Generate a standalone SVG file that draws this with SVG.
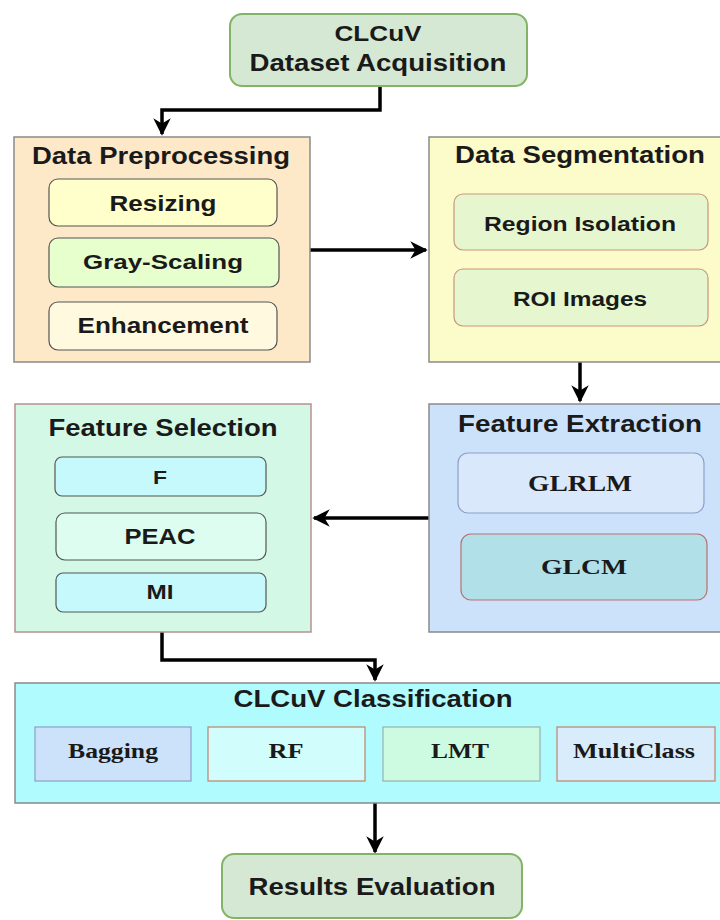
<svg xmlns="http://www.w3.org/2000/svg" width="720" height="920" viewBox="0 0 720 920">
<defs>
<marker id="ah" viewBox="0 0 10 10" refX="9" refY="5" markerWidth="5" markerHeight="5" orient="auto" markerUnits="strokeWidth">
<path d="M0,0 L10,5 L0,10 L3,5 Z" fill="#000"/>
</marker>
</defs>
<style>
.t{font-family:"Liberation Sans",Arial,sans-serif;font-weight:bold;fill:#1a1a1a;text-anchor:middle}
.s{font-family:"Liberation Serif","Times New Roman",serif;font-weight:bold;fill:#1a1a1a;text-anchor:middle}
.grp{stroke:#8a8a8a;stroke-width:1.5}
.c{fill:none;stroke:#000;stroke-width:3.5;marker-end:url(#ah)}
</style>
<rect width="720" height="920" fill="#fff"/>
<g id="connectors">
<path class="c" d="M380,86 V110 H162 V134"/>
<path class="c" d="M310,250 H426"/>
<path class="c" d="M580,362 V401"/>
<path class="c" d="M429,518 H314"/>
<path class="c" d="M162,632 V660 H375 V680"/>
<path class="c" d="M375,803 V852"/>
</g>
<g id="acq">
<rect x="230" y="14" width="297" height="72" rx="12" fill="#d5e8d4" stroke="#82b366" stroke-width="2"/>
<text class="t" x="378" y="41" font-size="22" textLength="87" lengthAdjust="spacingAndGlyphs">CLCuV</text>
<text class="t" x="378" y="71" font-size="24" textLength="257" lengthAdjust="spacingAndGlyphs">Dataset Acquisition</text>
</g>
<g id="preproc">
<rect class="grp" x="14" y="137" width="296" height="225" fill="#fde8c8"/>
<text class="t" x="161" y="164" font-size="23" textLength="258" lengthAdjust="spacingAndGlyphs">Data Preprocessing</text>
<rect x="49" y="179" width="228" height="47" rx="9" fill="#ffffcc" stroke="#555" stroke-width="1.2"/>
<text class="t" x="163" y="211" font-size="22" textLength="107" lengthAdjust="spacingAndGlyphs">Resizing</text>
<rect x="49" y="238" width="230" height="49" rx="9" fill="#e6ffcc" stroke="#555" stroke-width="1.2"/>
<text class="t" x="163" y="269" font-size="21" textLength="160" lengthAdjust="spacingAndGlyphs">Gray-Scaling</text>
<rect x="49" y="302" width="228" height="48" rx="9" fill="#fff9e0" stroke="#555" stroke-width="1.2"/>
<text class="t" x="163" y="333" font-size="22" textLength="171" lengthAdjust="spacingAndGlyphs">Enhancement</text>
</g>
<g id="seg">
<rect class="grp" x="429" y="137" width="295" height="225" fill="#fcfbca"/>
<text class="t" x="580" y="163" font-size="23" textLength="250" lengthAdjust="spacingAndGlyphs">Data Segmentation</text>
<rect x="454" y="194" width="254" height="56" rx="9" fill="#e6f7d0" stroke="#c9967a" stroke-width="1.2"/>
<text class="t" x="580" y="231" font-size="21" textLength="192" lengthAdjust="spacingAndGlyphs">Region Isolation</text>
<rect x="454" y="269" width="254" height="57" rx="9" fill="#e6f7d0" stroke="#c9967a" stroke-width="1.2"/>
<text class="t" x="580" y="306" font-size="21" textLength="134" lengthAdjust="spacingAndGlyphs">ROI Images</text>
</g>
<g id="extract">
<rect class="grp" x="429" y="404" width="295" height="228" fill="#cce2fb"/>
<text class="t" x="580" y="432" font-size="23" textLength="244" lengthAdjust="spacingAndGlyphs">Feature Extraction</text>
<rect x="458" y="453" width="246" height="60" rx="10" fill="#dae8fc" stroke="#8aa0c8" stroke-width="1.2"/>
<text class="s" x="580" y="491" font-size="23" textLength="104" lengthAdjust="spacingAndGlyphs">GLRLM</text>
<rect x="461" y="534" width="246" height="66" rx="10" fill="#b1e0e9" stroke="#b87070" stroke-width="1.2"/>
<text class="s" x="584" y="574" font-size="22" textLength="86" lengthAdjust="spacingAndGlyphs">GLCM</text>
</g>
<g id="select">
<rect x="15" y="404" width="296" height="228" fill="#d3f8e6" stroke="#b89090" stroke-width="1.5"/>
<text class="t" x="163" y="436" font-size="23" textLength="229" lengthAdjust="spacingAndGlyphs">Feature Selection</text>
<rect x="55" y="457" width="211" height="39" rx="7" fill="#c6f9fc" stroke="#555" stroke-width="1.2"/>
<text class="t" x="160" y="484" font-size="19" textLength="14" lengthAdjust="spacingAndGlyphs">F</text>
<rect x="56" y="513" width="210" height="47" rx="9" fill="#dcfdf0" stroke="#555" stroke-width="1.2"/>
<text class="t" x="160" y="544" font-size="22" textLength="71" lengthAdjust="spacingAndGlyphs">PEAC</text>
<rect x="56" y="573" width="210" height="39" rx="7" fill="#c6f9fc" stroke="#555" stroke-width="1.2"/>
<text class="t" x="160" y="599" font-size="20" textLength="27" lengthAdjust="spacingAndGlyphs">MI</text>
</g>
<g id="classif">
<rect class="grp" x="15" y="683" width="710" height="120" fill="#b0fbfd"/>
<text class="t" x="373" y="707" font-size="23" textLength="279" lengthAdjust="spacingAndGlyphs">CLCuV Classification</text>
<rect x="35" y="727" width="156" height="54" fill="#cce2fb" stroke="#8aa0c8" stroke-width="1.2"/>
<text class="s" x="113" y="758" font-size="22" textLength="90" lengthAdjust="spacingAndGlyphs">Bagging</text>
<rect x="208" y="727" width="157" height="54" fill="#d2fdfd" stroke="#c08070" stroke-width="1.2"/>
<text class="s" x="286" y="758" font-size="22" textLength="35" lengthAdjust="spacingAndGlyphs">RF</text>
<rect x="383" y="727" width="157" height="54" fill="#ccfbe2" stroke="#9ab0b0" stroke-width="1.2"/>
<text class="s" x="460" y="758" font-size="22" textLength="58" lengthAdjust="spacingAndGlyphs">LMT</text>
<rect x="557" y="727" width="158" height="54" fill="#d8ecfb" stroke="#c08070" stroke-width="1.2"/>
<text class="s" x="634" y="758" font-size="22" textLength="122" lengthAdjust="spacingAndGlyphs">MultiClass</text>
</g>
<g id="results">
<rect x="222" y="854" width="300" height="64" rx="12" fill="#d5e8d4" stroke="#82b366" stroke-width="2"/>
<text class="t" x="372" y="895" font-size="23" textLength="247" lengthAdjust="spacingAndGlyphs">Results Evaluation</text>
</g>
</svg>
